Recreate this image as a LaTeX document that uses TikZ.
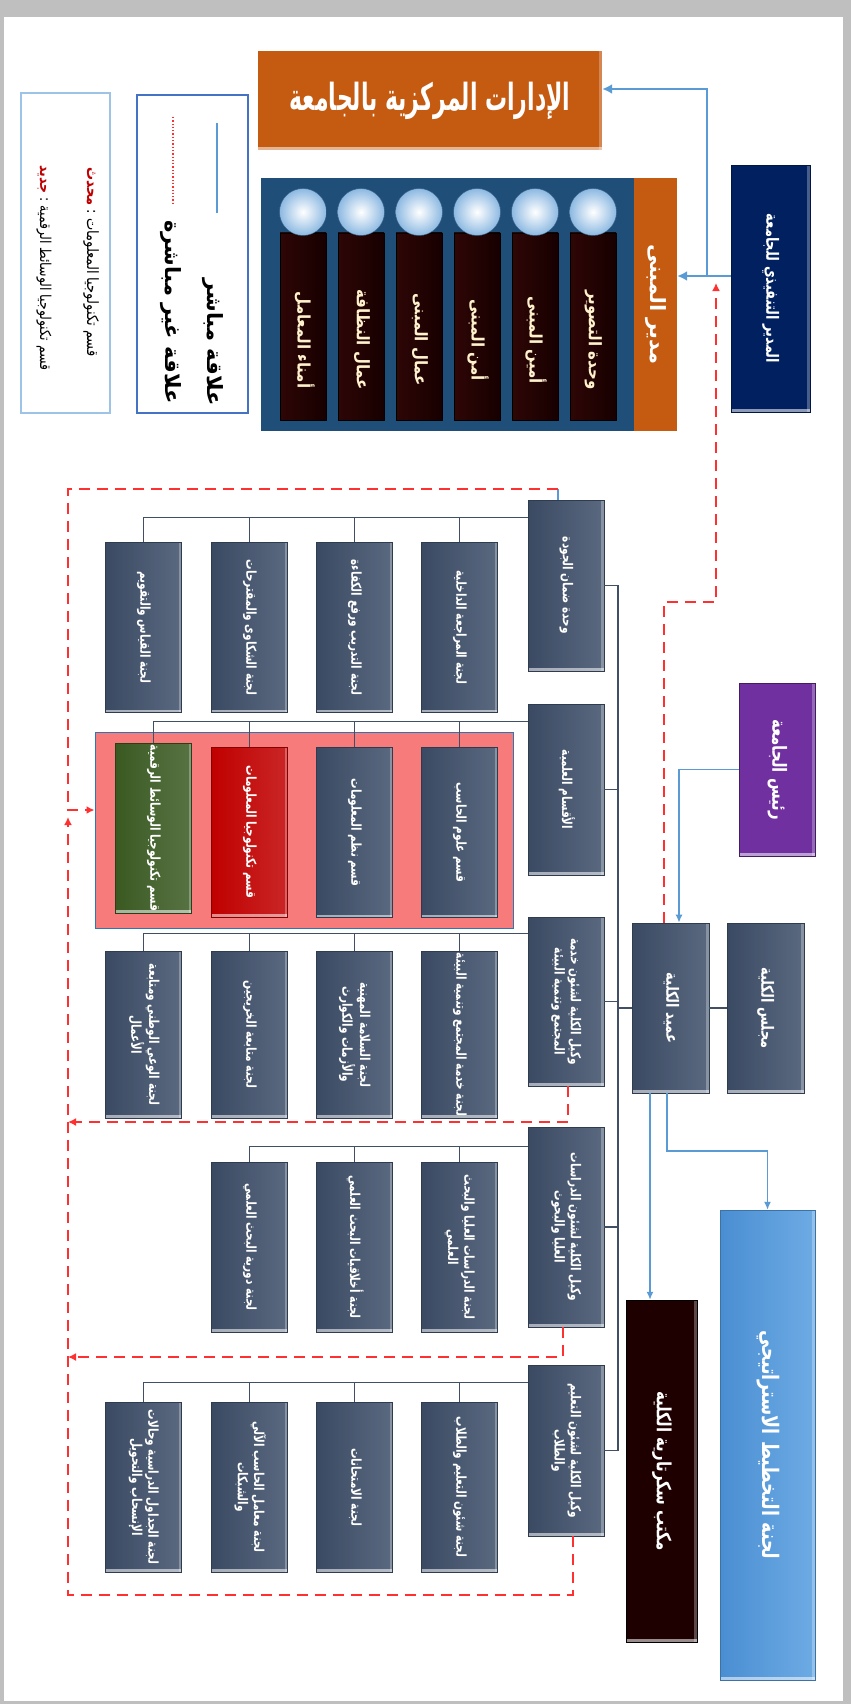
\documentclass[tikz,border=0pt]{standalone}
\usepackage{fontspec}
\usepackage{graphicx}
\usetikzlibrary{arrows.meta,calc}
\TeXXeTstate=1
\newfontfamily\arabicfont[Script=Arabic]{DejaVu Sans}
\newcommand{\AR}[1]{\beginR #1\endR}
\newcommand{\vt}[2][1.3]{\rotatebox{-90}{\scalebox{1}[#1]{\begin{tabular}{@{}c@{}}#2\end{tabular}}}}
\newcommand{\fA}{\arabicfont\bfseries\fontsize{10.5}{12.5}\selectfont}
\newcommand{\fB}{\arabicfont\bfseries\fontsize{13}{16}\selectfont}
\newcommand{\fC}{\arabicfont\bfseries\fontsize{15}{18}\selectfont}
\newcommand{\fT}{\arabicfont\bfseries\fontsize{22}{26}\selectfont}
\definecolor{slateL}{HTML}{3A4A62}
\definecolor{slateR}{HTML}{5A6980}
\definecolor{slateD}{HTML}{2F3B4E}
\definecolor{orangeT}{HTML}{C55A11}
\definecolor{bldgB}{HTML}{1F4E79}
\definecolor{cylL}{HTML}{2E0606}
\definecolor{cylR}{HTML}{170000}
\definecolor{navyN}{HTML}{002060}
\definecolor{purpleP}{HTML}{7030A0}
\definecolor{pinkP}{HTML}{F87B7B}
\definecolor{pinkB}{HTML}{2E75B6}
\definecolor{redR}{HTML}{C00000}
\definecolor{greenG}{HTML}{3A5A22}
\definecolor{secB}{HTML}{1F0000}
\definecolor{stratL}{HTML}{4A8ED2}
\definecolor{stratR}{HTML}{6DABE4}
\definecolor{arrB}{HTML}{5B9BD5}
\definecolor{redD}{HTML}{FF3030}
\definecolor{connC}{HTML}{414F66}
\definecolor{legB}{HTML}{4472C4}
\definecolor{legC}{HTML}{9DC3E6}
\definecolor{txtY}{HTML}{FFF2CC}
\tikzset{
  bev/.style={path picture={
     \fill[white,opacity=0.55] ([yshift=3pt]path picture bounding box.south west) rectangle (path picture bounding box.south east);
     \fill[white,opacity=0.28] ([xshift=-3pt]path picture bounding box.north east) rectangle (path picture bounding box.south east);}},
  sbox/.style={rectangle, inner sep=0pt, left color=slateL, right color=slateR, draw=slateD, line width=0.6pt, text=white, font=\fA, bev},
  cbox/.style={sbox, minimum width=76pt, minimum height=170pt},
  pbox/.style={rectangle, inner sep=0pt, text=white, bev},
  cyl/.style={rectangle, inner sep=0pt, minimum width=46pt, minimum height=187pt, left color=cylL, right color=cylR, draw=black, line width=0.4pt},
  cyltxt/.style={inner sep=0pt, text=txtY, font=\arabicfont\bfseries\fontsize{15}{18}\selectfont},
  sph/.style={circle, inner sep=0pt, minimum size=47pt, inner color=white, outer color=arrB!70!white, draw=arrB!60!black, line width=0.4pt},
  conn/.style={draw=connC, line width=1.6pt},
  barr/.style={draw=arrB, line width=1.6pt, -{Latex[length=8pt,width=7pt]}},
  bthick/.style={draw=arrB, line width=2.8pt, -{Latex[length=10pt,width=10pt]}},
  rdash/.style={draw=redD, line width=2.4pt, dash pattern=on 11pt off 7pt},
  rarr/.style={rdash, -{Latex[length=8pt,width=8pt]}},
  ltext/.style={inner sep=0pt, text=black},
}
\begin{document}
\begin{tikzpicture}[x=1pt,y=-1pt]
\useasboundingbox (0,0) rectangle (851,1704);
\fill[black!25] (0,0) rectangle (851,1704);
\fill[white] (4,17) rectangle (843,1701);

% ---------- top area ----------
\node[pbox, fill=orangeT, minimum width=344pt, minimum height=99pt, font=\fT] (title) at (430,100.5) {\scalebox{1}[1.7]{\AR{الإدارات المركزية بالجامعة}}};

\node[pbox, fill=navyN, draw=navyN!70!black, minimum width=79pt, minimum height=247pt, font=\fB] (exec) at (770.5,288.5) {\vt{\AR{المدير التنفيذي للجامعة}}};

\node[rectangle, inner sep=0pt, fill=bldgB, minimum width=373pt, minimum height=253pt] (bldg) at (447.5,304.5) {};
\node[rectangle, inner sep=0pt, fill=orangeT, text=white, font=\arabicfont\bfseries\fontsize{21}{24}\selectfont, minimum width=43pt, minimum height=253pt] (mgr) at (655.5,304.5) {\vt[1]{\AR{مدير المبنى}}};

\foreach \i/\cx/\txt in {1/593/{وحدة التصوير},2/535/{أمين المبنى},3/477/{أمن المبنى},4/419/{عمال المبنى},5/361/{عمال النظافة},6/303/{أمناء المعامل}}{
  \node[cyl] (cy\i) at (\cx,326.5) {};
  \node[cyltxt] (ct\i) at (\cx,340) {\vt[1.15]{\AR{\txt}}};
  \node[sph] (sp\i) at (\cx,212) {};
}

% legends
\node[rectangle, draw=legB, line width=1.5pt, fill=white, minimum width=111pt, minimum height=318pt] (leg1) at (192.5,254) {};
\node[rectangle, draw=legC, line width=2pt, fill=white, minimum width=89pt, minimum height=320pt] (leg2) at (65.5,253) {};
\coordinate (lb1) at (217,123); \coordinate (lb2) at (217,213);
\coordinate (lr1) at (173,117); \coordinate (lr2) at (173,205);
\draw[draw=arrB, line width=1.6pt] (lb1) -- (lb2);
\draw[draw=redD, line width=1.3pt, dotted] (lr1) -- (lr2);
\node[ltext, font=\arabicfont\bfseries\fontsize{21}{25}\selectfont] (lt1) at (212,342) {\vt[1]{\AR{علاقة مباشر}}};
\node[ltext, font=\arabicfont\bfseries\fontsize{21}{25}\selectfont] (lt2) at (170,312) {\vt[1]{\AR{علاقة غير مباشرة}}};
\node[ltext, font=\arabicfont\fontsize{13}{16}\selectfont] (lt3) at (91,262) {\vt[1.2]{\textcolor{redR}{\bfseries\AR{محدث}}\ :\ \AR{قسم تكنولوجيا المعلومات}}};
\node[ltext, font=\arabicfont\fontsize{12.5}{16}\selectfont] (lt4) at (44,268) {\vt[1.2]{\textcolor{redR}{\bfseries\AR{جديد}}\ :\ \AR{قسم تكنولوجيا الوسائط الرقمية}}};

% ---------- right column ----------
\node[pbox, fill=purpleP, draw=purpleP!60!black, minimum width=76pt, minimum height=173pt, font=\arabicfont\bfseries\fontsize{15}{18}\selectfont] (pres) at (777,769.5) {\vt{\AR{رئيس الجامعة}}};
\node[sbox, minimum width=77pt, minimum height=170pt, font=\fB] (dean) at (670.5,1008) {\vt{\AR{عميد الكلية}}};
\node[sbox, minimum width=77pt, minimum height=170pt, font=\fB] (coun) at (765.5,1008) {\vt{\AR{مجلس الكلية}}};
\node[pbox, fill=secB, draw=black, minimum width=71pt, minimum height=342pt, font=\fC] (sec) at (661.5,1471) {\vt{\AR{مكتب سكرتارية الكلية}}};
\node[pbox, left color=stratL, right color=stratR, draw=stratL!80!black, line width=0.4pt, minimum width=95pt, minimum height=470pt, font=\arabicfont\bfseries\fontsize{17.5}{20}\selectfont] (strat) at (767.5,1445) {\vt{\AR{لجنة التخطيط الاستراتيجي}}};

% ---------- level 2 ----------
\node[sbox, minimum width=76pt, minimum height=171pt] (q) at (566,585.5) {\vt{\AR{وحدة ضمان الجودة}}};
\node[sbox, minimum width=76pt, minimum height=171pt] (d) at (566,789.5) {\vt{\AR{الأقسام العلمية}}};
\node[sbox, minimum width=76pt, minimum height=169pt] (c) at (566,1001.5) {\vt{\AR{وكيل الكلية لشئون خدمة}\\\AR{المجتمع وتنمية البيئة}}};
\node[sbox, minimum width=76pt, minimum height=200pt] (g) at (566,1227) {\vt{\AR{وكيل الكلية لشئون الدراسات}\\\AR{العليا والبحوث}}};
\node[sbox, minimum width=76pt, minimum height=171pt] (e) at (566,1450.5) {\vt{\AR{وكيل الكلية لشئون التعليم}\\\AR{والطلاب}}};

% ---------- children ----------
\node[cbox] (q1) at (459.5,627.5) {\vt{\AR{لجنة المراجعة الداخلية}}};
\node[cbox] (q2) at (354.5,627.5) {\vt{\AR{لجنة التدريب ورفع الكفاءة}}};
\node[cbox] (q3) at (249.5,627.5) {\vt{\AR{لجنة الشكاوى والمقترحات}}};
\node[cbox] (q4) at (143.5,627.5) {\vt{\AR{لجنة القياس والتقويم}}};

\node[rectangle, inner sep=0pt, fill=pinkP, draw=pinkB, line width=1pt, minimum width=418pt, minimum height=196pt] (pk) at (304,830) {};
\node[cbox] (d1) at (459.5,832.5) {\vt{\AR{قسم علوم الحاسب}}};
\node[cbox] (d2) at (354.5,832.5) {\vt{\AR{قسم نظم المعلومات}}};
\node[cbox, left color=redR, right color=redR!85!white, draw=redR!70!black] (d3) at (249.5,832) {\vt{\AR{قسم تكنولوجيا المعلومات}}};
\node[cbox, left color=greenG, right color=greenG!85!white, draw=greenG!70!black] (d4) at (153.5,828) {\vt{\AR{قسم تكنولوجيا الوسائط الرقمية}}};

\node[cbox, minimum height=167pt] (c1) at (459.5,1034.5) {\vt{\AR{لجنة خدمة المجتمع وتنمية البيئة}}};
\node[cbox, minimum height=167pt] (c2) at (354.5,1034.5) {\vt{\AR{لجنة السلامة المهنية}\\\AR{والأزمات والكوارث}}};
\node[cbox, minimum height=167pt] (c3) at (249.5,1034.5) {\vt{\AR{لجنة متابعة الخريجين}}};
\node[cbox, minimum height=167pt] (c4) at (143.5,1034.5) {\vt{\AR{لجنة الوعي الوطني ومتابعة}\\\AR{الأعمال}}};

\node[cbox] (g1) at (459.5,1247) {\vt{\AR{لجنة الدراسات العليا والبحث}\\\AR{العلمي}}};
\node[cbox] (g2) at (354.5,1247) {\vt{\AR{لجنة أخلاقيات البحث العلمي}}};
\node[cbox] (g3) at (249.5,1247) {\vt{\AR{لجنة دورية البحث العلمي}}};

\node[cbox] (e1) at (459.5,1487) {\vt{\AR{لجنة شئون التعليم والطلاب}}};
\node[cbox] (e2) at (354.5,1487) {\vt{\AR{لجنة الامتحانات}}};
\node[cbox] (e3) at (249.5,1487) {\vt{\AR{لجنة معامل الحاسب الآلي}\\\AR{والشبكات}}};
\node[cbox] (e4) at (143.5,1487) {\vt{\AR{لجنة الجداول الدراسية وحالات}\\\AR{الإنسحاب والتحويل}}};

% ---------- tree connectors ----------
\coordinate (tr) at (618,0);
\draw[conn] (q.east) -- (q.east -| tr) -- (e.east -| tr);
\foreach \n in {d,c,g,e}{ \draw[conn] (\n.east) -- (\n.east -| tr); }
\draw[conn] (dean.west) -- (dean.west -| tr);
\draw[conn] (dean.east) -- (coun.west);

\foreach \k in {q1,q2,q3,q4}{ \draw[conn, line width=1.2pt] ([yshift=-18pt]q.north west) -| (\k.north); }
\foreach \k in {d1,d2,d3,d4}{ \draw[conn, line width=1.2pt] ([yshift=-18pt]d.north west) -| (\k.north); }
\foreach \k in {c1,c2,c3,c4}{ \draw[conn, line width=1.2pt] ([yshift=-17pt]c.north west) -| (\k.north); }
\foreach \k in {g1,g2,g3}{ \draw[conn, line width=1.2pt] ([yshift=-20pt]g.north west) -| (\k.north); }
\foreach \k in {e1,e2,e3,e4}{ \draw[conn, line width=1.2pt] ([yshift=-18pt]e.north west) -| (\k.north); }

% ---------- blue arrows ----------
\coordinate (ex1) at (731,276);
\coordinate (ex2) at (707,276);
\draw[bthick] (ex1) -- (ex1 -| mgr.east);
\draw[bthick, line width=2.2pt] (ex2) |- ([yshift=11.5pt]title.east);
\draw[barr] (pres.west) -| ([xshift=8.5pt]dean.north);
\draw[barr] ([xshift=-20.5pt]dean.south) -- ([xshift=-20.5pt]dean.south |- sec.north);
\coordinate (sb) at (767.5,1151);
\draw[barr] ([xshift=-3.5pt]dean.south) |- (sb) -- (strat.north);

% ---------- red dashed ----------
\coordinate (r1) at (716,602);
\coordinate (r2) at (716,283);
\draw[rarr] ([xshift=-6.5pt]dean.north) |- (r1) -- (r2);

\coordinate (qa) at (558,489);
\coordinate (vl) at (68,810);
\draw[draw=arrB, line width=1.4pt] ([xshift=-8pt]q.north) -- (qa);
\draw[rarr] (qa) -| (vl) -- (vl -| pk.west);

\coordinate (vb) at (68,1595);
\coordinate (vu) at (68,817);
\draw[rarr] ([xshift=7pt]e.south) |- (vb) -- (vu);
\coordinate (vc) at (68,1122);
\draw[rarr] ([xshift=2pt]c.south) |- (vc);
\coordinate (vg) at (68,1357);
\draw[rarr] ([xshift=-3pt]g.south) |- (vg);
\end{tikzpicture}
\end{document}
